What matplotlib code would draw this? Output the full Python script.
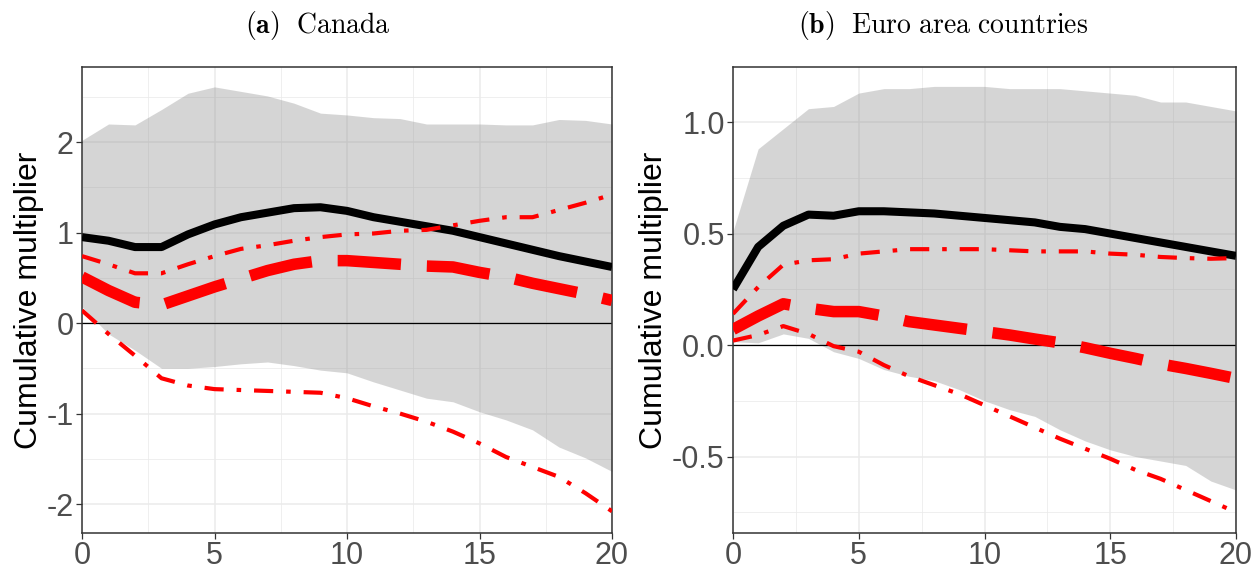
import matplotlib
matplotlib.use("Agg")
import matplotlib.pyplot as plt
import numpy as np
from matplotlib.ticker import MultipleLocator

plt.rcParams['mathtext.fontset'] = 'cm'
plt.rcParams['font.family'] = ['Liberation Sans', 'DejaVu Sans']

horizon = list(range(21))

# Panel (a) Canada
ca_band_hi = [2.02, 2.20, 2.19, 2.36, 2.54, 2.61, 2.56, 2.51, 2.43, 2.32, 2.30,
              2.27, 2.26, 2.20, 2.20, 2.20, 2.19, 2.19, 2.25, 2.24, 2.20]
ca_band_lo = [0.18, -0.12, -0.30, -0.50, -0.50, -0.48, -0.45, -0.43, -0.47, -0.52, -0.55,
              -0.65, -0.74, -0.83, -0.87, -0.98, -1.07, -1.18, -1.37, -1.49, -1.64]
ca_linear = [0.95, 0.91, 0.84, 0.84, 0.98, 1.09, 1.17, 1.22, 1.27, 1.28, 1.24,
             1.17, 1.12, 1.07, 1.02, 0.95, 0.88, 0.81, 0.74, 0.68, 0.62]
ca_state = [0.51, 0.36, 0.23, 0.20, 0.30, 0.40, 0.49, 0.58, 0.65, 0.69, 0.69,
            0.67, 0.65, 0.63, 0.62, 0.56, 0.51, 0.44, 0.38, 0.32, 0.25]
ca_state_hi = [0.74, 0.65, 0.55, 0.55, 0.65, 0.74, 0.82, 0.86, 0.91, 0.95, 0.98,
               0.99, 1.02, 1.03, 1.08, 1.13, 1.17, 1.17, 1.25, 1.33, 1.42]
ca_state_lo = [0.14, -0.12, -0.36, -0.61, -0.69, -0.73, -0.74, -0.75, -0.76, -0.77, -0.83,
               -0.92, -1.00, -1.09, -1.20, -1.33, -1.48, -1.59, -1.70, -1.88, -2.08]

# Panel (b) Euro area countries
ea_band_hi = [0.51, 0.88, 0.97, 1.06, 1.07, 1.13, 1.15, 1.15, 1.16, 1.16, 1.16,
              1.15, 1.15, 1.15, 1.14, 1.13, 1.12, 1.09, 1.09, 1.07, 1.05]
ea_band_lo = [0.015, 0.01, 0.05, 0.03, -0.03, -0.06, -0.11, -0.14, -0.16, -0.20, -0.25,
              -0.29, -0.32, -0.38, -0.43, -0.47, -0.50, -0.52, -0.54, -0.61, -0.65]
ea_linear = [0.25, 0.44, 0.535, 0.585, 0.58, 0.60, 0.60, 0.595, 0.59, 0.58, 0.57,
             0.56, 0.55, 0.53, 0.52, 0.50, 0.48, 0.46, 0.44, 0.42, 0.40]
ea_state = [0.07, 0.13, 0.185, 0.165, 0.15, 0.15, 0.13, 0.105, 0.09, 0.075, 0.06,
            0.045, 0.027, 0.01, -0.012, -0.037, -0.06, -0.085, -0.105, -0.127, -0.15]
ea_state_hi = [0.14, 0.26, 0.36, 0.38, 0.385, 0.41, 0.42, 0.43, 0.43, 0.43, 0.43,
               0.425, 0.42, 0.42, 0.42, 0.41, 0.405, 0.395, 0.39, 0.387, 0.39]
ea_state_lo = [0.02, 0.045, 0.085, 0.05, -0.005, -0.03, -0.09, -0.14, -0.18, -0.22, -0.27,
               -0.32, -0.37, -0.42, -0.465, -0.51, -0.56, -0.60, -0.65, -0.70, -0.75]

titles = [r"$\mathbf{(a)}\ \ \mathrm{Canada}$", r"$\mathbf{(b)}\ \ \mathrm{Euro\ area\ countries}$"]
ylabel = "Cumulative multiplier"
xticks = [0, 5, 10, 15, 20]
ca_yticks = [-2, -1, 0, 1, 2]
ca_yticklabels = ["-2", "-1", "0", "1", "2"]
ea_yticks = [-0.5, 0.0, 0.5, 1.0]
ea_yticklabels = ["-0.5", "0.0", "0.5", "1.0"]

fig = plt.figure(figsize=(12.57, 5.65), dpi=100)
ax1 = fig.add_axes([82/1257, 32/565, 530/1257, 466/565])
ax2 = fig.add_axes([733/1257, 32/565, 503/1257, 466/565])

panels = [
    (ax1, ca_band_lo, ca_band_hi, ca_linear, ca_state, ca_state_hi, ca_state_lo,
     (-2.32, 2.83), ca_yticks, ca_yticklabels, 0.5),
    (ax2, ea_band_lo, ea_band_hi, ea_linear, ea_state, ea_state_hi, ea_state_lo,
     (-0.843, 1.247), ea_yticks, ea_yticklabels, 0.25),
]

for ax, blo, bhi, lin, st, sthi, stlo, ylim, yt, ytl, yminor in panels:
    ax.set_axisbelow(True)
    ax.fill_between(horizon, blo, bhi, color='#7f7f7f', alpha=0.32, linewidth=0, zorder=1)
    ax.axhline(0, color='black', linewidth=0.9, zorder=2)
    ax.plot(horizon, lin, color='black', linewidth=5.8, solid_capstyle='butt', zorder=3)
    ax.plot(horizon, st, color='red', linewidth=8.3, linestyle=(0, (5.5, 2.25)),
            dash_capstyle='butt', zorder=4)
    ax.plot(horizon, sthi, color='red', linewidth=3.0, linestyle=(0, (4.6, 3.1, 1.1, 3.1)),
            dash_capstyle='butt', zorder=5)
    ax.plot(horizon, stlo, color='red', linewidth=3.0, linestyle=(0, (4.6, 3.1, 1.1, 3.1)),
            dash_capstyle='butt', zorder=5)
    ax.set_xlim(0, 20)
    ax.set_ylim(*ylim)
    ax.set_xticks(xticks)
    ax.set_xticklabels([str(t) for t in xticks])
    ax.set_yticks(yt)
    ax.set_yticklabels(ytl)
    ax.xaxis.set_minor_locator(MultipleLocator(2.5))
    ax.yaxis.set_minor_locator(MultipleLocator(yminor))
    ax.grid(which='major', color='#EBEBEB', linewidth=1.1)
    ax.grid(which='minor', color='#EBEBEB', linewidth=0.55)
    ax.tick_params(which='major', length=4, width=0.9, color='#333333',
                   labelsize=22, labelcolor='#4D4D4D', pad=2)
    ax.tick_params(which='minor', length=0)
    for sp in ax.spines.values():
        sp.set_color('#333333')
        sp.set_linewidth(1.1)
    ax.set_ylabel(ylabel, fontsize=23, color='black', labelpad=2)
    ax.margins(0)

fig.text(318/1257, 1 - 25/565, titles[0], ha='center', va='center', fontsize=20)
fig.text(943/1257, 1 - 25/565, titles[1], ha='center', va='center', fontsize=20)

fig.savefig("out.png", dpi=100)
